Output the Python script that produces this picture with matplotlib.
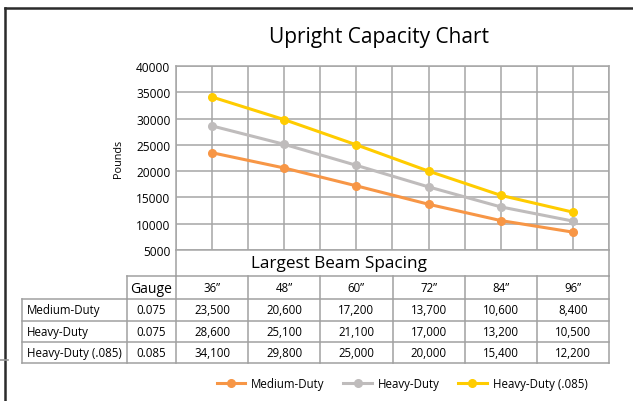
import matplotlib
matplotlib.use("Agg")
import matplotlib.pyplot as plt
from matplotlib.lines import Line2D

plt.rcParams['font.family'] = ['Open Sans', 'DejaVu Sans']

spacings = ['36”', '48”', '60”', '72”', '84”', '96”']
series = ['Medium-Duty', 'Heavy-Duty', 'Heavy-Duty (.085)']
gauges = ['0.075', '0.075', '0.085']
medium = [23500, 20600, 17200, 13700, 10600, 8400]
heavy = [28600, 25100, 21100, 17000, 13200, 10500]
heavy085 = [34100, 29800, 25000, 20000, 15400, 12200]
colors = ['#F79646', '#BFBCBC', '#FFCC00']

W, H = 633, 402
fig = plt.figure(figsize=(W / 100, H / 100), dpi=100)

# chart area in pixels
L, R, T, B = 176, 609, 67, 251
ax = fig.add_axes([L / W, 1 - B / H, (R - L) / W, (B - T) / H])
x = list(range(len(spacings)))
for vals, c in zip([medium, heavy, heavy085], colors):
    ax.plot(x, vals, color=c, lw=2.2, marker='o', ms=5.5, zorder=3)
ax.set_xlim(-0.5, len(spacings) - 0.5)
ax.set_ylim(5000, 40000)
ax.set_yticks(range(5000, 40001, 5000))
ax.set_xticks([i * 0.5 - 0.5 for i in range(2 * len(spacings) + 1)])
ax.set_xticklabels([])
ax.tick_params(length=0, labelsize=8.6, pad=4)
ax.grid(True, color='#A6A6A6', lw=1.1)
ax.set_axisbelow(True)
for s in ax.spines.values():
    s.set_color('#A6A6A6')
    s.set_linewidth(1.1)
ax.set_ylabel('Pounds', fontsize=7.8, labelpad=9)

# overlay in pixel coordinates for the table and frame
ov = fig.add_axes([0, 0, 1, 1], zorder=-1)
ov.set_xlim(0, W)
ov.set_ylim(H, 0)
ov.axis('off')

fig.text(379 / W, 1 - 37 / H, 'Upright Capacity Chart', ha='center', va='center', fontsize=15)

gc = '#A0A0A0'
lw = 1.1
fs = 8.3
col_w = (R - L) / len(spacings)
lab_x, gauge_x = 22, 127
row_y = [277, 300, 322, 343, 364]
# "Largest Beam Spacing" cell
ov.plot([L, L], [B, row_y[0]], color=gc, lw=lw)
ov.plot([R, R], [B, row_y[0]], color=gc, lw=lw)
ov.text(339, (B + row_y[0]) / 2, 'Largest Beam Spacing', ha='center', va='center', fontsize=12.3)
# header row
ov.plot([gauge_x, R], [row_y[0], row_y[0]], color=gc, lw=lw)
ov.plot([gauge_x, gauge_x], [row_y[0], row_y[1]], color=gc, lw=lw)
ov.text((gauge_x + L) / 2, (row_y[0] + row_y[1]) / 2 + 1, 'Gauge', ha='center', va='center', fontsize=10)
for i, s in enumerate(spacings):
    ov.text(L + col_w * (i + 0.5), (row_y[0] + row_y[1]) / 2, s, ha='center', va='center', fontsize=fs)
# vertical lines
for i in range(len(spacings) + 1):
    ov.plot([L + col_w * i, L + col_w * i], [row_y[0], row_y[-1]], color=gc, lw=lw)
ov.plot([lab_x, lab_x], [row_y[1], row_y[-1]], color=gc, lw=lw)
ov.plot([gauge_x, gauge_x], [row_y[1], row_y[-1]], color=gc, lw=lw)
for y in row_y[1:]:
    ov.plot([lab_x, R], [y, y], color=gc, lw=lw)
for r, (name, g, vals) in enumerate(zip(series, gauges, [medium, heavy, heavy085])):
    yc = (row_y[r + 1] + row_y[r + 2]) / 2
    ov.text(lab_x + 5, yc, name, ha='left', va='center', fontsize=fs)
    ov.text((gauge_x + L) / 2, yc, g, ha='center', va='center', fontsize=fs)
    for i, v in enumerate(vals):
        ov.text(L + col_w * (i + 0.5), yc, f'{v:,}', ha='center', va='center', fontsize=fs)

# outer frame
ov.plot([5, W], [9, 9], color='#2B2B2B', lw=1.8)
ov.plot([5, 5], [9, H], color='#2B2B2B', lw=1.8)
ov.plot([0, 8], [361, 361], color='#999999', lw=1.2)

handles = [Line2D([], [], color=c, lw=2.2, marker='o', ms=5.5) for c in colors]
fig.legend(handles, series, loc='center', bbox_to_anchor=(402 / W, 1 - 385 / H), ncol=3,
           frameon=False, fontsize=8.3, handlelength=2.5, columnspacing=1.6, handletextpad=0.5)

fig.savefig('out.png', dpi=100)
